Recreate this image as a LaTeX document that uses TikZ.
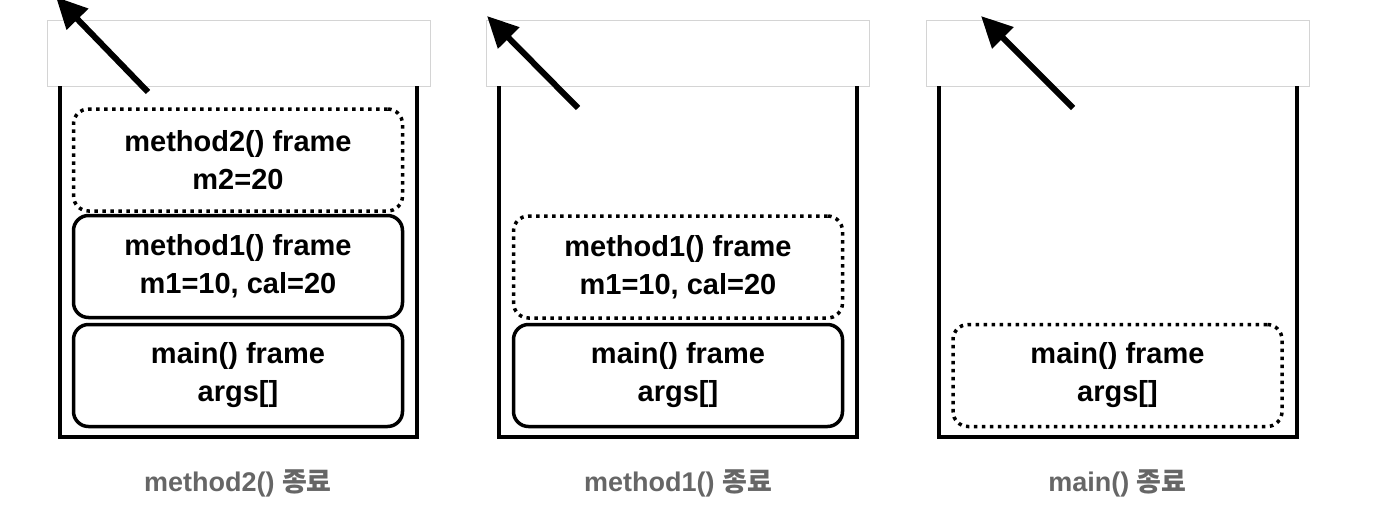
\documentclass[tikz,border=0pt]{standalone}
\usepackage{fontspec}
\setmainfont{Liberation Sans}
\newfontfamily\kr{Noto Sans CJK KR}
\usetikzlibrary{arrows.meta}
\definecolor{lidgray}{HTML}{D4D4D4}
\definecolor{labgray}{HTML}{666666}
\tikzset{
  lid/.style={draw=lidgray, line width=1pt, fill=white, minimum width=383pt, minimum height=66pt, inner sep=0pt},
  wall/.style={line width=4pt, line join=miter},
  framebox/.style={draw, line width=3.5pt, rounded corners=15pt, minimum width=329pt, minimum height=102pt, align=center, font=\fontsize{29}{38}\selectfont\bfseries, inner sep=0pt},
  gone/.style={framebox, dash pattern=on 3.5pt off 4.5pt},
  popline/.style={line width=6pt, -{Triangle[length=31pt,width=29pt]}},
  caption/.style={text=labgray, font=\fontsize{27}{30}\selectfont\bfseries}
}
\begin{document}
\begin{tikzpicture}[x=1pt,y=-1pt]
\useasboundingbox (0,0) rectangle (1396,520);
% ---------- panel 1 ----------
\node[lid] (lid1) at (238.5,53) {};
\coordinate (w1a) at (59.5,86);
\coordinate (w1b) at (59.5,437);
\coordinate (w1c) at (416.5,437);
\coordinate (w1d) at (416.5,86);
\draw[wall] (w1a) -- (w1b) -- (w1c) -- (w1d);
\node[gone] (m2a) at (238,160) {method2() frame\\m2=20};
\node[framebox] (m1a) at (238,266.5) {method1() frame\\m1=10, cal=20};
\node[framebox] (mna) at (238,375.5) {main() frame\\args[]};
\coordinate (t1) at (148,92);
\coordinate (h1) at (56,-3);
\draw[popline] (t1) -- (h1);
\node[caption] (c1) at (238,483) {method2() {\kr 종료}};
% ---------- panel 2 ----------
\node[lid] (lid2) at (678,53) {};
\coordinate (w2a) at (499,86);
\coordinate (w2b) at (499,437);
\coordinate (w2c) at (857,437);
\coordinate (w2d) at (857,86);
\draw[wall] (w2a) -- (w2b) -- (w2c) -- (w2d);
\node[gone] (m1b) at (678,267) {method1() frame\\m1=10, cal=20};
\node[framebox] (mnb) at (678,375.5) {main() frame\\args[]};
\coordinate (t2) at (578,108);
\coordinate (h2) at (487,16);
\draw[popline] (t2) -- (h2);
\node[caption] (c2) at (678,483) {method1() {\kr 종료}};
% ---------- panel 3 ----------
\node[lid] (lid3) at (1117.5,53) {};
\coordinate (w3a) at (938.5,86);
\coordinate (w3b) at (938.5,437);
\coordinate (w3c) at (1296.5,437);
\coordinate (w3d) at (1296.5,86);
\draw[wall] (w3a) -- (w3b) -- (w3c) -- (w3d);
\node[gone] (mnc) at (1117.5,375.5) {main() frame\\args[]};
\coordinate (t3) at (1073,108);
\coordinate (h3) at (981,16);
\draw[popline] (t3) -- (h3);
\node[caption] (c3) at (1117.5,483) {main() {\kr 종료}};
\end{tikzpicture}
\end{document}
